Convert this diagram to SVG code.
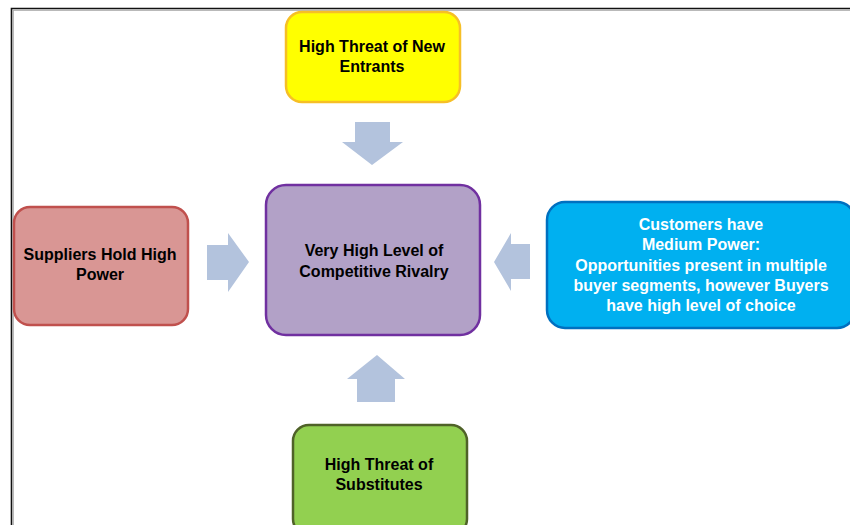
<svg xmlns="http://www.w3.org/2000/svg" width="850" height="525" viewBox="0 0 850 525">
  <style>
    .box { stroke-width: 2.5; }
    .lbl { font-family: "Liberation Sans", Arial, sans-serif; font-size: 16px; font-weight: bold; fill: #000; text-anchor: middle; }
    .lbl-w { fill: #ffffff; }
    .arrow { fill: #B3C3DD; stroke: none; }
    .frame { fill: none; stroke: #111; stroke-width: 1.6; }
    .frame-shade { fill: none; stroke: #9a9a9a; stroke-width: 1; }
  </style>

  <rect width="850" height="525" fill="#ffffff"/>

  <!-- outer frame -->
  <g id="frame">
    <path class="frame" d="M11.5,525 V8.5 H850"/>
    <path class="frame-shade" d="M13.2,525 V10.2 H850"/>
  </g>

  <!-- block arrows -->
  <g id="connectors">
    <polygon class="arrow" points="355,122 390,122 390,142 403,142 372,165 342,142 355,142"/>
    <polygon class="arrow" points="207,245 228,245 228,233 249,262 228,292 228,280 207,280"/>
    <polygon class="arrow" points="530,244 511,244 511,233 494,262 511,291 511,279 530,279"/>
    <polygon class="arrow" points="357,402 395,402 395,379 405,379 377,355 347,379 357,379"/>
  </g>

  <g id="new-entrants">
    <rect class="box" x="286" y="12" width="174" height="90" rx="16" fill="#FFFF00" stroke="#F6BF26"/>
    <text class="lbl" x="372" y="52">High Threat of New</text>
    <text class="lbl" x="372" y="72">Entrants</text>
  </g>

  <g id="suppliers">
    <rect class="box" x="14" y="207" width="174" height="118" rx="16" fill="#D99694" stroke="#C0504D"/>
    <text class="lbl" x="100" y="260">Suppliers Hold High</text>
    <text class="lbl" x="100" y="280">Power</text>
  </g>

  <g id="rivalry">
    <rect class="box" x="266" y="185" width="214" height="150" rx="20" fill="#B2A1C7" stroke="#7030A0"/>
    <text class="lbl" x="374" y="256">Very High Level of</text>
    <text class="lbl" x="374" y="277">Competitive Rivalry</text>
  </g>

  <g id="customers">
    <rect class="box" x="547" y="202" width="308" height="126" rx="18" fill="#00B0F0" stroke="#0070C0"/>
    <text class="lbl lbl-w" x="701" y="230">Customers have</text>
    <text class="lbl lbl-w" x="701" y="250">Medium Power:</text>
    <text class="lbl lbl-w" x="701" y="271">Opportunities present in multiple</text>
    <text class="lbl lbl-w" x="701" y="291">buyer segments, however Buyers</text>
    <text class="lbl lbl-w" x="701" y="311">have high level of choice</text>
  </g>

  <g id="substitutes">
    <rect class="box" x="293" y="425" width="174" height="110" rx="16" fill="#92D050" stroke="#4F6228"/>
    <text class="lbl" x="379" y="470">High Threat of</text>
    <text class="lbl" x="379" y="490">Substitutes</text>
  </g>
</svg>
